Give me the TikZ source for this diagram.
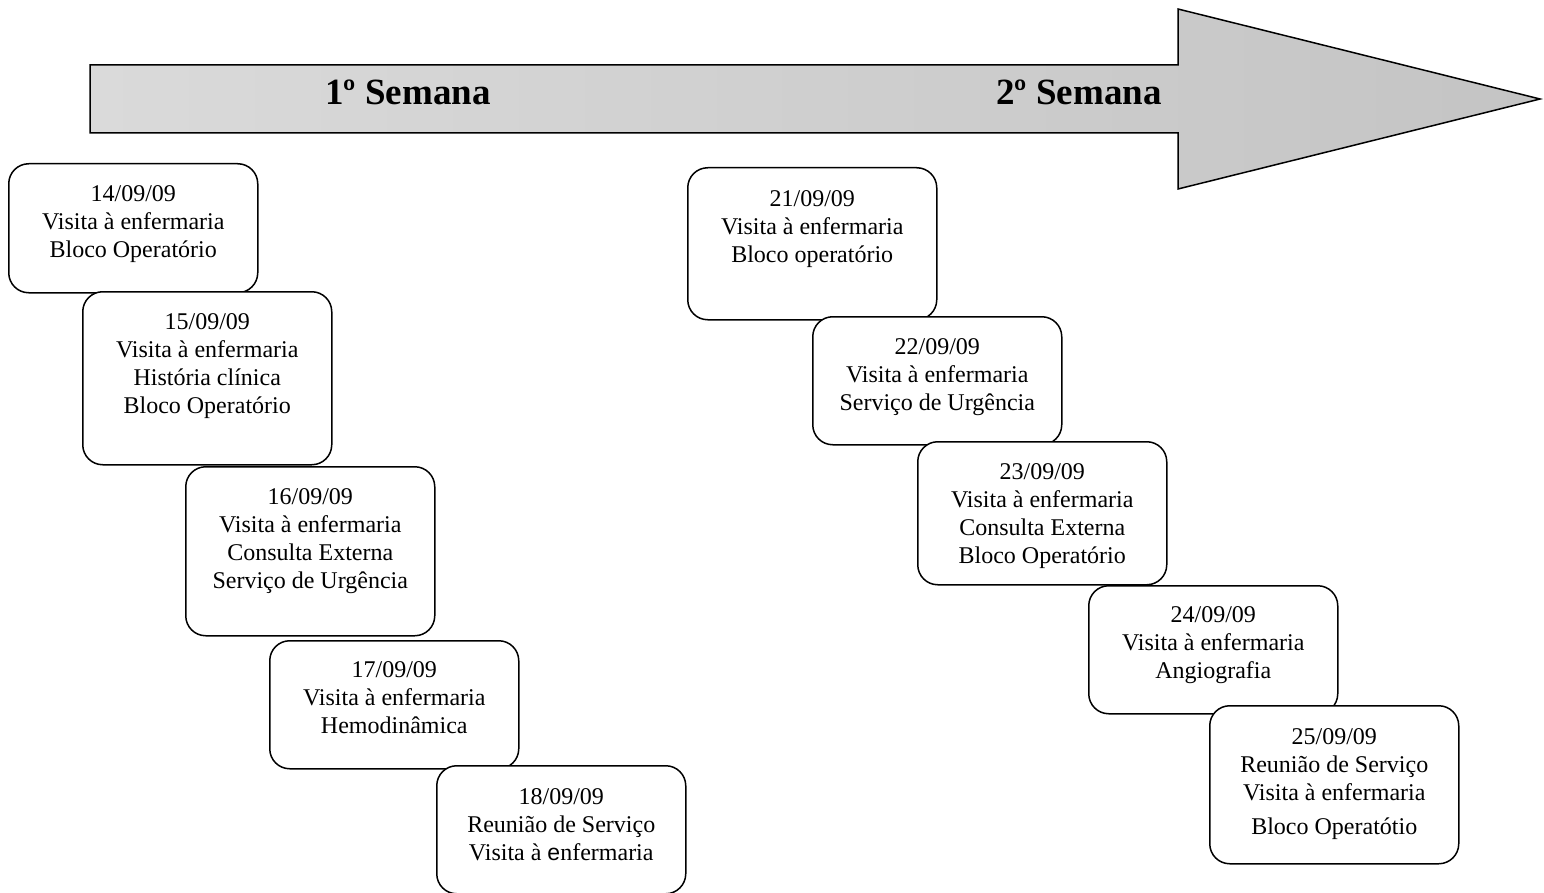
\documentclass[tikz,border=0pt]{standalone}
\usepackage{fontspec}
\setmainfont{Liberation Serif}
\newfontfamily\altsans{Liberation Sans}
\begin{document}
\begin{tikzpicture}[x=1pt,y=-1pt,
  daybox/.style={draw=black, line width=1.5pt, fill=white, rounded corners=20pt,
    anchor=north west, minimum width=249pt, inner sep=0pt},
  daytext/.style={anchor=north, align=center, inner sep=0pt,
    font=\fontsize{24pt}{28pt}\selectfont},
  weektext/.style={anchor=base, inner sep=0pt, font=\fontsize{37pt}{40pt}\selectfont\bfseries}
]
\useasboundingbox (0,0) rectangle (1544,893);

% timeline arrow
\shade[left color={rgb,255:red,218;green,218;blue,218}, right color={rgb,255:red,196;green,196;blue,196},
  draw=black, line width=1.5pt, line join=miter]
  (90,65) -- (1178,65) -- (1178,9) -- (1540,99) -- (1178,189) -- (1178,133) -- (90,133) -- cycle;
\node[weektext] (w1) at (408,105) {1º Semana};
\node[weektext] (w2) at (1079,105) {2º Semana};

% week 1
\node[daybox, minimum height=129pt] (d14) at (8,163) {};
\node[daytext] (t14) at ([yshift=-19pt]d14.north) {\strut 14/09/09\\Visita à enfermaria\\Bloco Operatório};

\node[daybox, minimum height=173pt] (d15) at (82,291) {};
\node[daytext] (t15) at ([yshift=-19pt]d15.north) {\strut 15/09/09\\Visita à enfermaria\\História clínica\\Bloco Operatório};

\node[daybox, minimum height=169pt] (d16) at (185,466) {};
\node[daytext] (t16) at ([yshift=-19pt]d16.north) {\strut 16/09/09\\Visita à enfermaria\\Consulta Externa\\Serviço de Urgência};

\node[daybox, minimum height=128pt] (d17) at (269,640) {};
\node[daytext] (t17) at ([yshift=-18pt]d17.north) {\strut 17/09/09\\Visita à enfermaria\\Hemodinâmica};

\node[daybox, minimum height=128pt] (d18) at (436,765) {};
\node[daytext] (t18) at ([yshift=-20pt]d18.north) {\strut 18/09/09\\Reunião de Serviço\\Visita à {\altsans\fontsize{23pt}{28pt}\selectfont e}nfermaria};

% week 2
\node[daybox, minimum height=152pt] (d21) at (687,167) {};
\node[daytext] (t21) at ([yshift=-20pt]d21.north) {\strut 21/09/09\\Visita à enfermaria\\Bloco operatório};

\node[daybox, minimum height=128pt] (d22) at (812,316) {};
\node[daytext] (t22) at ([yshift=-19pt]d22.north) {\strut 22/09/09\\Visita à enfermaria\\Serviço de Urgência};

\node[daybox, minimum height=143pt] (d23) at (917,441) {};
\node[daytext] (t23) at ([yshift=-19pt]d23.north) {\strut 23/09/09\\Visita à enfermaria\\Consulta Externa\\Bloco Operatório};

\node[daybox, minimum height=128pt] (d24) at (1088,585) {};
\node[daytext] (t24) at ([yshift=-18pt]d24.north) {\strut 24/09/09\\Visita à enfermaria\\Angiografia};

\node[daybox, minimum height=158pt] (d25) at (1209,705) {};
\node[daytext] (t25) at ([yshift=-20pt]d25.north) {\strut 25/09/09\\Reunião de Serviço\\Visita à enfermaria\\[6pt]Bloco Operatótio};
\end{tikzpicture}
\end{document}
